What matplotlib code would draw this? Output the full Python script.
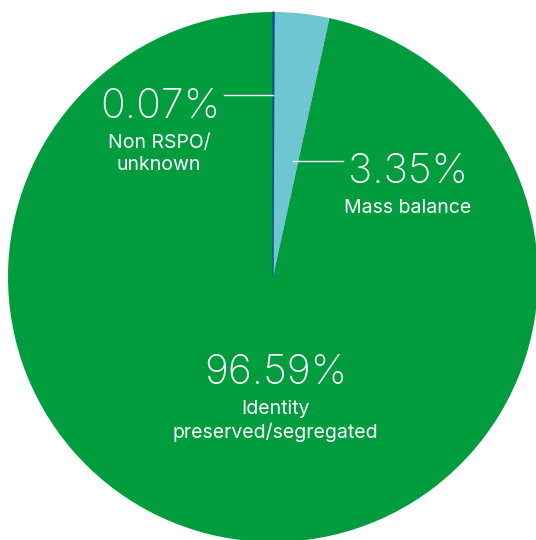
import matplotlib
matplotlib.use("Agg")
import matplotlib.pyplot as plt

categories = ["Non RSPO/\nunknown", "Mass balance", "Identity\npreserved/segregated"]
values = [0.07, 3.35, 96.59]
pct_labels = ["0.07%", "3.35%", "96.59%"]
colors = ["#0F4A9E", "#6FC5D1", "#009C3E"]

W, H = 536, 540
CX, CY, R = 273, 277, 265

fig = plt.figure(figsize=(W / 100, H / 100), dpi=100)
ax = fig.add_axes([0, 0, 1, 1])
wedges, _ = ax.pie(values, colors=colors, startangle=90, counterclock=False,
                   radius=1.0, center=(0, 0))
wedges[0].set_edgecolor(colors[0])
wedges[0].set_linewidth(0.8)
wedges[0].set_zorder(5)
ax.set_xlim(-CX / R, (W - CX) / R)
ax.set_ylim(-(H - CY) / R, CY / R)
ax.set_aspect("auto")
ax.axis("off")


def d(px, py):
    return (px - CX) / R, (CY - py) / R


fam = ["Inter", "DejaVu Sans"]
big = dict(color="white", fontsize=29.5, family=fam, weight="light",
           ha="center", va="center")
small = dict(color="white", fontsize=14, family=fam, weight="normal",
             ha="center", va="center", linespacing=1.32)

# Non RSPO
ax.text(*d(160, 107), pct_labels[0], **big)
ax.text(*d(159, 154), categories[0], **small)
ax.plot(*zip(d(224, 95), d(273, 95)), color="white", lw=1.0, zorder=6)

# Mass balance
ax.text(*d(408, 172), pct_labels[1], **big)
ax.text(*d(408, 208), categories[1], **small)
ax.plot(*zip(d(293, 161), d(343, 161)), color="white", lw=1.0, zorder=6)

# Identity preserved
ax.text(*d(276, 373), pct_labels[2], **big)
ax.text(*d(275, 421), categories[2], **small)

fig.savefig("out.png", dpi=100, facecolor="white")
